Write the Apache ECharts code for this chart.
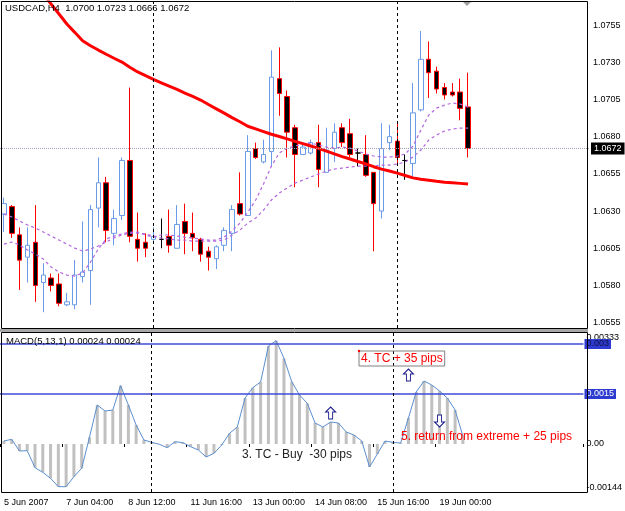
<!DOCTYPE html>
<html>
<head>
<meta charset="utf-8">
<script src="https://cdn.jsdelivr.net/npm/echarts@6/dist/echarts.min.js"></script>
<style>html,body{margin:0;padding:0;background:#fff;}#c{width:625px;height:511px;}</style>
</head>
<body>
<div id="c"></div>
<script>
// ---- data ----
const categories = ['5 Jun 20:00','6 Jun 00:00','6 Jun 04:00','6 Jun 08:00','6 Jun 12:00','6 Jun 16:00','6 Jun 20:00','7 Jun 00:00','7 Jun 04:00','7 Jun 08:00',
'7 Jun 12:00','7 Jun 16:00','7 Jun 20:00','8 Jun 00:00','8 Jun 04:00','8 Jun 08:00','8 Jun 12:00','8 Jun 16:00','8 Jun 20:00','10 Jun 20:00',
'11 Jun 00:00','11 Jun 04:00','11 Jun 08:00','11 Jun 12:00','11 Jun 16:00','11 Jun 20:00','12 Jun 00:00','12 Jun 04:00','12 Jun 08:00','12 Jun 12:00',
'12 Jun 16:00','12 Jun 20:00','13 Jun 00:00','13 Jun 04:00','13 Jun 08:00','13 Jun 12:00','13 Jun 16:00','13 Jun 20:00','14 Jun 00:00','14 Jun 04:00',
'14 Jun 08:00','14 Jun 12:00','14 Jun 16:00','14 Jun 20:00','15 Jun 00:00','15 Jun 04:00','15 Jun 08:00','15 Jun 12:00','15 Jun 16:00','15 Jun 20:00',
'18 Jun 00:00','18 Jun 04:00','18 Jun 08:00','18 Jun 12:00','18 Jun 16:00','18 Jun 20:00','19 Jun 00:00','19 Jun 04:00','19 Jun 08:00','19 Jun 12:00'];

const tickLabels = ['5 Jun 2007','7 Jun 04:00','8 Jun 12:00','11 Jun 16:00','13 Jun 00:00','14 Jun 08:00','15 Jun 16:00','19 Jun 00:00'];
const priceTicks = [1.0555,1.0580,1.0605,1.0630,1.0655,1.0680,1.0705,1.0730,1.0755];
const macdTicks = [-0.00144, 0, 0.00333];

const open  = [1.0628,1.0633,1.0614,1.0599,1.0609,1.0582,1.0585,1.0581,1.0567,1.0567,
1.0586,1.0590,1.0632,1.0649,1.0615,1.0627,1.0664,1.0611,1.0609,1.0611,
1.0611,1.0613,1.0605,1.0623,1.0615,1.0611,1.0603,1.0598,1.0607,1.0615,
1.0635,1.0627,1.0672,1.0663,1.0670,1.0719,1.0707,1.0686,1.0668,1.0669,
1.0676,1.0656,1.0672,1.0686,1.0682,1.0669,1.0668,1.0656,1.0630,1.0676,
1.0677,1.0664,1.0662,1.0698,1.0732,1.0724,1.0713,1.0710,1.0710,1.0700];
const close = [1.0635,1.0615,1.0597,1.0607,1.0580,1.0587,1.0580,1.0568,1.0569,1.0587,
1.0589,1.0631,1.0649,1.0617,1.0625,1.0664,1.0613,1.0605,1.0605,1.0613,
1.0611,1.0607,1.0621,1.0615,1.0612,1.0601,1.0599,1.0606,1.0617,1.0631,
1.0628,1.0670,1.0666,1.0668,1.0720,1.0709,1.0683,1.0668,1.0673,1.0676,
1.0658,1.0671,1.0683,1.0676,1.0668,1.0669,1.0654,1.0635,1.0672,1.0680,
1.0666,1.0664,1.0696,1.0732,1.0723,1.0712,1.0708,1.0708,1.0699,1.0672];
const low   = [1.0616,1.0612,1.0577,1.0582,1.0569,1.0562,1.0576,1.0566,1.0566,1.0564,
1.0582,1.0567,1.0619,1.0609,1.0607,1.0624,1.0609,1.0596,1.0599,1.0610,
1.0605,1.0602,1.0605,1.0601,1.0603,1.0596,1.0590,1.0591,1.0603,1.0603,
1.0627,1.0627,1.0665,1.0662,1.0660,1.0694,1.0666,1.0646,1.0668,1.0668,
1.0646,1.0656,1.0663,1.0673,1.0666,1.0660,1.0653,1.0603,1.0625,1.0671,
1.0662,1.0651,1.0653,1.0697,1.0706,1.0709,1.0705,1.0707,1.0691,1.0666];
const high  = [1.0639,1.0634,1.0619,1.0619,1.0634,1.0595,1.0588,1.0588,1.0575,1.0597,
1.0623,1.0634,1.0666,1.0653,1.0631,1.0666,1.0713,1.0629,1.0615,1.0619,
1.0625,1.0631,1.0634,1.0635,1.0629,1.0612,1.0606,1.0607,1.0619,1.0634,
1.0656,1.0681,1.0676,1.0678,1.0738,1.0740,1.0711,1.0688,1.0676,1.0678,
1.0688,1.0686,1.0689,1.0689,1.0692,1.0672,1.0681,1.0656,1.0689,1.0688,
1.0690,1.0668,1.0716,1.0751,1.0744,1.0727,1.0716,1.0716,1.0719,1.0723];

const maSlow = [1.08101,1.08034,1.0796,1.07893,1.07826,1.07758,1.07691,1.07624,1.07557,1.07501,
1.07444,1.07411,1.07382,1.07354,1.07327,1.07301,1.07266,1.07235,1.0721,1.07185,
1.07162,1.07139,1.07117,1.07093,1.0707,1.07046,1.07016,1.06987,1.06958,1.06928,
1.069,1.0687,1.06852,1.06834,1.06816,1.06801,1.06785,1.06768,1.06753,1.06737,
1.06721,1.06703,1.06684,1.06666,1.0665,1.06633,1.06617,1.06598,1.06582,1.06569,
1.06555,1.06539,1.06523,1.06514,1.06507,1.065,1.06494,1.0649,1.06486,1.06482];

const maFast = [1.06078,1.06092,1.06072,1.06038,1.06011,1.05978,1.05924,1.0589,1.0587,1.05863,
1.05883,1.05957,1.06045,1.06112,1.06132,1.06146,1.06159,1.06159,1.06139,1.06125,
1.06139,1.06139,1.06132,1.06125,1.06119,1.06112,1.06105,1.06105,1.06125,1.06166,
1.06219,1.06293,1.06374,1.06482,1.06602,1.0669,1.06723,1.06737,1.0675,1.06757,
1.06744,1.0673,1.06723,1.0673,1.06723,1.06703,1.06683,1.0667,1.06663,1.06663,
1.0667,1.06683,1.06737,1.06844,1.06945,1.06992,1.07012,1.07026,1.07019,1.06999];

const maMid = [1.0628,1.0626,1.06233,1.06206,1.06186,1.06159,1.06132,1.06105,1.06078,1.06051,
1.06031,1.06045,1.06065,1.06092,1.06119,1.06139,1.06152,1.06152,1.06146,1.06132,
1.06119,1.06112,1.06105,1.06105,1.06098,1.06098,1.06098,1.06098,1.06105,1.06139,
1.06172,1.06219,1.06253,1.06307,1.06374,1.06421,1.06455,1.06488,1.06508,1.06529,
1.06549,1.06569,1.06582,1.06589,1.06596,1.06602,1.06602,1.06602,1.06609,1.06609,
1.06616,1.06629,1.06663,1.0671,1.06777,1.06811,1.06838,1.06851,1.06858,1.06858];

const macd = [0.00009,0.00014,-0.00021,-0.0002,-0.00071,-0.00085,-0.00103,-0.00128,-0.00128,-0.00098,
-0.00073,0.0002,0.00117,0.00099,0.00102,0.00175,0.00117,0.00057,0.00012,0.00005,
-0.00001,-0.00011,0.00007,0.00004,-0.00008,-0.00018,-0.00039,-0.00028,-0.00003,0.00032,
0.00051,0.00138,0.00169,0.00186,0.00294,0.00310,0.00257,0.00187,0.00147,0.00122,
0.00063,0.00051,0.00066,0.00063,0.00036,0.00027,0.00009,-0.00069,-0.0003,0.00009,
0.00005,0.00003,0.00078,0.00156,0.00189,0.00177,0.00159,0.00138,0.00102,0.00024];

const macdLevels = [0.003, 0.0015];
const bidPrice = 1.0672;
const vLineIdx = [19, 50];
const arrowsUp = [[42, 0.00093], [52, 0.00207]];
const arrowsDown = [[56, 0.00069]];

// ---- build ----
const axisCats = categories.slice();
for (let i = categories.length; i < 75; i++) axisCats.push('pad' + i);
const candles = open.map((o, i) => [o, close[i], low[i], high[i]]);
const F = 'Liberation Sans, Arial, sans-serif';
const upPath = 'path://M5,0L10,5L7,5L7,12L3,12L3,5L0,5Z';
const downPath = 'path://M3,0L7,0L7,7L10,7L5,12L0,7L3,7Z';

const chart = echarts.init(document.getElementById('c'));
const vlines = vLineIdx.map(i => ({ xAxis: categories[i] }));

chart.setOption({
  animation: false,
  backgroundColor: '#ffffff',
  grid: [
    { left: -1, top: 2, width: 591, height: 326 },
    { left: -1, top: 333, width: 591, height: 159 }
  ],
  xAxis: [
    { type: 'category', gridIndex: 0, data: axisCats, boundaryGap: true, show: false },
    { type: 'category', gridIndex: 1, data: axisCats, boundaryGap: true,
      axisLine: { show: false },
      axisTick: { show: true, interval: (i) => i % 8 === 0 && i <= 56, length: 3, lineStyle: { color: '#000' } },
      axisLabel: { interval: (i) => i % 8 === 0 && i <= 56, align: 'left', margin: 6,
        fontSize: 9, fontFamily: F, color: '#000',
        formatter: (v, i) => tickLabels[i / 8] },
      splitLine: { show: false } }
  ],
  yAxis: [
    { type: 'value', gridIndex: 0, position: 'right', min: 1.05514, max: 1.07705,
      axisLine: { show: false }, axisTick: { show: false }, splitLine: { show: false },
      axisLabel: { customValues: priceTicks, fontSize: 9, fontFamily: F, color: '#000', margin: 3,
        formatter: v => v.toFixed(4) } },
    { type: 'value', gridIndex: 1, position: 'right', min: -0.00144, max: 0.00333,
      axisLine: { show: false }, axisTick: { show: false }, splitLine: { show: false },
      axisLabel: { customValues: macdTicks, fontSize: 9, fontFamily: F, color: '#000', margin: 3,
        verticalAlignMaxLabel: 'top', verticalAlignMinLabel: 'bottom',
        formatter: v => v === 0 ? '0.00' : (v > 0 ? '0.00333' : '-0.00144') } }
  ],
  series: [
    { type: 'candlestick', xAxisIndex: 0, yAxisIndex: 0, data: candles, barWidth: 5,
      itemStyle: { color: '#ffffff', color0: '#000000', borderColor: '#6a9be8', borderColor0: '#ff0000',
        borderColorDoji: '#000000', borderWidth: 1 },
      markLine: { silent: true, symbol: 'none', animation: false, precision: 6,
        data: [
          { yAxis: bidPrice, lineStyle: { color: '#a0a0b0', type: 'dotted', width: 1 },
            label: { show: true, position: 'end', distance: 1, formatter: bidPrice.toFixed(4),
              backgroundColor: '#000', color: '#fff', fontSize: 9, fontFamily: F, padding: [2, 3, 1, 3] } },
          ...vlines.map(d => Object.assign({ lineStyle: { color: '#000', type: [3, 3], width: 1 }, label: { show: false } }, d))
        ] } },
    { type: 'line', xAxisIndex: 0, yAxisIndex: 0, data: maMid, symbol: 'none', z: 3,
      lineStyle: { color: '#b366e0', width: 1.2, type: [3, 3] } },
    { type: 'line', xAxisIndex: 0, yAxisIndex: 0, data: maFast, symbol: 'none', z: 3,
      lineStyle: { color: '#b366e0', width: 1.2, type: [3, 3] } },
    { type: 'line', xAxisIndex: 0, yAxisIndex: 0, data: maSlow, symbol: 'none', z: 4,
      lineStyle: { color: '#ff0000', width: 3 } },
    { type: 'bar', xAxisIndex: 1, yAxisIndex: 1, data: macd, barWidth: 3,
      itemStyle: { color: '#c0c0c0' } },
    { type: 'line', xAxisIndex: 1, yAxisIndex: 1, data: macd, symbol: 'none', z: 4,
      lineStyle: { color: '#5b8fd0', width: 1 },
      markLine: { silent: true, symbol: 'none', animation: false, precision: 6,
        data: [
          { yAxis: macdLevels[0], lineStyle: { color: '#3f4bd8', width: 1.5, type: 'solid' },
            label: { show: true, position: 'end', distance: 1, formatter: '0.003',
              backgroundColor: '#2d3bd0', color: '#101040', fontSize: 9, fontFamily: F, padding: [1, 2, 0, 2] } },
          { yAxis: macdLevels[1], lineStyle: { color: '#3f4bd8', width: 1.5, type: 'solid' },
            label: { show: true, position: 'end', distance: 1, formatter: '0.0015',
              backgroundColor: '#2d3bd0', color: '#ffffff', fontSize: 9, fontFamily: F, padding: [1, 2, 0, 2] } },
          ...vlines.map(d => Object.assign({ lineStyle: { color: '#000', type: [3, 3], width: 1 }, label: { show: false } }, d))
        ] },
      markPoint: { silent: true, animation: false, precision: 6,
        data: [
          ...arrowsUp.map(a => ({ coord: [categories[a[0]], a[1]], symbol: upPath, symbolSize: [10, 12],
            itemStyle: { color: '#ffffff', borderColor: '#1c1c8c', borderWidth: 1 }, label: { show: false } })),
          ...arrowsDown.map(a => ({ coord: [categories[a[0]], a[1]], symbol: downPath, symbolSize: [10, 12],
            itemStyle: { color: '#ffffff', borderColor: '#1c1c8c', borderWidth: 1 }, label: { show: false } }))
        ] } }
  ],
  graphic: [
    { type: 'rect', z: 50, silent: true, shape: { x: 1.5, y: 1.5, width: 586, height: 327 },
      style: { fill: 'none', stroke: '#000', lineWidth: 1 } },
    { type: 'rect', z: 50, silent: true, shape: { x: 0, y: 329, width: 588, height: 3 },
      style: { fill: '#a8a8a8' } },
    { type: 'rect', z: 50, silent: true, shape: { x: 1.5, y: 332.5, width: 586, height: 160 },
      style: { fill: 'none', stroke: '#000', lineWidth: 1 } },
    { type: 'polygon', z: 50, silent: true, shape: { points: [[463, 2], [471, 2], [467, 6]] },
      style: { fill: '#a0a0a0' } },
    { type: 'text', z: 60, silent: true, x: 5, y: 3,
      style: { text: 'USDCAD,H4  1.0700 1.0723 1.0666 1.0672', fill: '#000', font: '9.5px ' + F } },
    { type: 'text', z: 60, silent: true, x: 6, y: 336,
      style: { text: 'MACD(5,13,1) 0.00024 0.00024', fill: '#000', font: '9.5px ' + F } },
    { type: 'text', z: 60, silent: true, x: 242, y: 449,
      style: { text: '3. TC - Buy  -30 pips', fill: '#222222', font: '12px ' + F } },
    { type: 'text', z: 60, silent: true, x: 359, y: 351,
      style: { text: '4. TC + 35 pips', fill: '#ff0000', font: '12px ' + F,
        borderColor: '#808080', borderWidth: 1, padding: [2, 2, 1, 2] } },
    { type: 'circle', z: 61, silent: true, shape: { cx: 359, cy: 351, r: 1.2 }, style: { fill: '#ff0000' } },
    { type: 'text', z: 60, silent: true, x: 401, y: 431,
      style: { text: '5. return from extreme + 25 pips', fill: '#ff0000', font: '12px ' + F } }
  ]
});
</script>
</body>
</html>
